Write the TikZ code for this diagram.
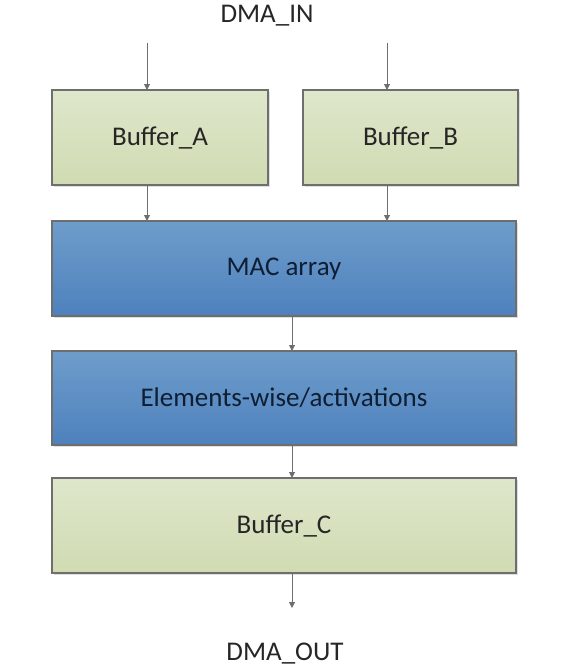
\documentclass[tikz,border=0pt]{standalone}
\usepackage{fontspec}
\setmainfont{Carlito}
\usetikzlibrary{arrows.meta,shadows}
\definecolor{gtop}{HTML}{DEE7CB}
\definecolor{gbot}{HTML}{D0DBB2}
\definecolor{btop}{HTML}{6E9DCB}
\definecolor{bbot}{HTML}{4E81BD}
\definecolor{edge}{HTML}{6E6E6E}
\definecolor{txt}{HTML}{262626}
\definecolor{txtb}{HTML}{0F1E33}
\begin{document}
\begin{tikzpicture}[x=1pt,y=-1pt,
  boxbase/.style={draw=edge,line width=1.1pt,inner sep=0pt,outer sep=0pt,
    drop shadow={opacity=0.25,shadow xshift=2pt,shadow yshift=-2pt},
    font=\fontsize{27}{31}\selectfont},
  greenbox/.style={boxbase,top color=gtop,bottom color=gbot,text=txt},
  bluebox/.style={boxbase,top color=btop,bottom color=bbot,text=txtb},
  lbl/.style={font=\fontsize{27}{31}\selectfont,text=txt},
  conn/.style={draw=edge,line width=1pt,-{Triangle[length=6pt,width=6pt]}}]
\useasboundingbox (0,0) rectangle (583,670);
\node[greenbox,minimum width=216pt,minimum height=95pt] (A) at (160,137.5) {Buffer\_A};
\node[greenbox,minimum width=215pt,minimum height=95pt] (B) at (410.5,137.5) {Buffer\_B};
\node[bluebox,minimum width=464pt,minimum height=95pt] (MAC) at (284,268.5) {MAC array};
\node[bluebox,minimum width=464pt,minimum height=94pt] (EW) at (284,398) {Elements-wise/activations};
\node[greenbox,minimum width=464pt,minimum height=95pt] (C) at (284,525.5) {Buffer\_C};
\node[lbl] (in) at (267,16) {DMA\_IN};
\node[lbl] (out) at (285,654) {DMA\_OUT};
\coordinate (a0) at (147,43);
\coordinate (b0) at (387,43);
\coordinate (c1) at (292,608);
\draw[conn] (a0) -- (a0 |- A.north);
\draw[conn] (b0) -- (b0 |- B.north);
\draw[conn] (a0 |- A.south) -- (a0 |- MAC.north);
\draw[conn] (b0 |- B.south) -- (b0 |- MAC.north);
\draw[conn] (c1 |- MAC.south) -- (c1 |- EW.north);
\draw[conn] (c1 |- EW.south) -- (c1 |- C.north);
\draw[conn] (c1 |- C.south) -- (c1);
\end{tikzpicture}
\end{document}
